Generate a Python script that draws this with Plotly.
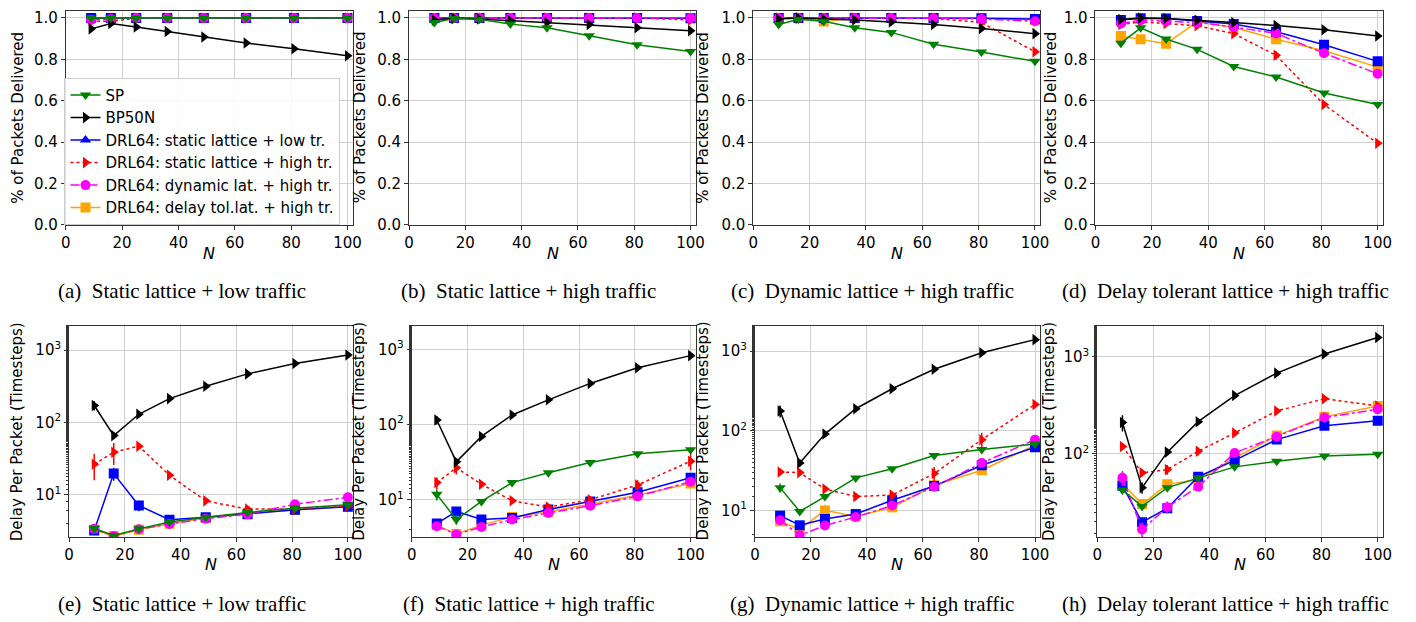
import plotly.graph_objects as go

# ---------------- data ----------------
N = [9, 16, 25, 36, 49, 64, 81, 100]
X_TICKS = [0, 20, 40, 60, 80, 100]
PDR_TICKS = [0.0, 0.2, 0.4, 0.6, 0.8, 1.0]
PDR_TICK_TEXT = ["0.0", "0.2", "0.4", "0.6", "0.8", "1.0"]
LOG_TICKS = [10, 100, 1000]
LOG_TICK_TEXT = ["10<sup>1</sup>", "10<sup>2</sup>", "10<sup>3</sup>"]

SERIES_NAMES = ["SP", "BP50N", "DRL64: static lattice + low tr.",
                "DRL64: static lattice + high tr.", "DRL64: dynamic lat. + high tr.",
                "DRL64: delay tol.lat. + high tr."]

CAPTIONS = ["(a)  Static lattice + low traffic", "(b)  Static lattice + high traffic",
            "(c)  Dynamic lattice + high traffic", "(d)  Delay tolerant lattice + high traffic",
            "(e)  Static lattice + low traffic", "(f)  Static lattice + high traffic",
            "(g)  Dynamic lattice + high traffic", "(h)  Delay tolerant lattice + high traffic"]

# (a) packets delivered, static lattice + low traffic
A_SP = [1.0, 1.0, 1.0, 1.0, 1.0, 1.0, 1.0, 1.0]
A_BP = [0.947, 0.973, 0.956, 0.934, 0.908, 0.879, 0.851, 0.817]
A_LOW = [1.0, 1.0, 1.0, 1.0, 1.0, 1.0, 1.0, 1.0]
A_HIGH = [0.985, 0.983, 0.999, 1.0, 1.0, 1.0, 1.0, 1.0]
A_DYN = [0.99, 0.995, 1.0, 1.0, 1.0, 1.0, 1.0, 1.0]
A_DT = [1.0, 1.0, 1.0, 1.0, 1.0, 1.0, 1.0, 1.0]
# (b)
B_SP = [0.978, 0.997, 0.994, 0.970, 0.952, 0.914, 0.870, 0.838]
B_BP = [0.990, 0.998, 0.995, 0.987, 0.978, 0.968, 0.953, 0.938]
B_LOW = [1.0, 1.0, 1.0, 1.0, 1.0, 1.0, 1.0, 0.998]
B_HIGH = [0.990, 0.996, 1.0, 1.0, 1.0, 1.0, 1.0, 0.990]
B_DYN = [1.0, 1.0, 1.0, 1.0, 1.0, 1.0, 1.0, 1.0]
B_DT = [1.0, 1.0, 1.0, 1.0, 1.0, 1.0, 1.0, 1.0]
# (c)
C_SP = [0.968, 0.994, 0.984, 0.952, 0.930, 0.873, 0.835, 0.790]
C_BP = [0.995, 1.0, 0.995, 0.990, 0.980, 0.968, 0.949, 0.924]
C_LOW = [1.0, 1.0, 1.0, 1.0, 1.0, 1.0, 0.998, 0.995]
C_HIGH = [1.0, 1.0, 1.0, 1.0, 1.0, 0.998, 0.978, 0.836]
C_DYN = [1.0, 1.0, 1.0, 1.0, 1.0, 0.998, 0.995, 0.984]
C_DT = [1.0, 1.0, 0.983, 1.0, 1.0, 1.0, 0.998, 0.990]
# (d)
D_SP = [0.878, 0.952, 0.898, 0.848, 0.765, 0.714, 0.637, 0.581]
D_BP = [0.992, 1.0, 0.997, 0.989, 0.978, 0.963, 0.943, 0.913]
D_LOW = [0.990, 0.998, 0.997, 0.985, 0.971, 0.933, 0.870, 0.790]
D_HIGH = [0.968, 0.981, 0.973, 0.962, 0.924, 0.819, 0.581, 0.394]
D_DYN = [0.973, 0.990, 0.984, 0.978, 0.956, 0.925, 0.829, 0.730]
D_DT = [0.913, 0.897, 0.875, 0.981, 0.954, 0.897, 0.841, 0.762]
# (e) delay per packet
E_SP = [3.44, 2.75, 3.4, 4.23, 4.9, 5.74, 6.56, 7.31]
E_BP = [172, 66, 130, 214, 317, 470, 655, 857]
E_LOW = [3.23, 19.7, 7.14, 4.56, 4.9, 5.43, 6.24, 6.85]
E_HIGH = [26.5, 39, 47.1, 18.7, 8.28, 6.37, 6.4, 7.0]
E_DYN = [3.4, 2.7, 3.35, 3.97, 4.7, 5.43, 7.45, 9.27]
E_DT = [3.3, 2.7, 3.3, 4.0, 4.8, 5.5, 6.2, 6.9]
# (f)
F_SP = [11.8, 5.45, 9.5, 16.9, 22.9, 31.2, 41, 46.3]
F_BP = [115, 31.9, 69.5, 134, 213, 352, 567, 824]
F_LOW = [4.83, 7.0, 5.45, 5.73, 7.4, 9.5, 12.6, 19.6]
F_HIGH = [16.9, 26.6, 16.1, 9.7, 8.0, 10.0, 15.7, 32.6]
F_DYN = [4.46, 3.46, 4.36, 5.45, 6.67, 8.34, 11.1, 17.4]
F_DT = [4.6, 3.5, 4.6, 5.9, 6.9, 8.8, 11.5, 16.5]
# (g)
G_SP = [19.3, 9.7, 14.9, 25.6, 33.4, 49, 58.2, 68.3]
G_BP = [177, 39.4, 90.8, 189, 337, 592, 953, 1393]
G_LOW = [8.6, 6.5, 7.8, 9.0, 13.4, 20.2, 36.8, 62]
G_HIGH = [30.4, 29.8, 18.6, 14.9, 15.6, 29, 77.3, 214]
G_DYN = [7.5, 4.86, 6.46, 8.26, 11.5, 19.8, 39.4, 77.3]
G_DT = [7.3, 5.77, 10.0, 8.4, 10.9, 20.7, 31.9, 66]
# (h)
H_SP = [42.4, 28.7, 44.8, 56.6, 73.3, 83.6, 94.8, 98.6]
H_BP = [210, 44.8, 104, 214, 398, 677, 1065, 1574]
H_LOW = [46.9, 19.7, 27.5, 58, 85.5, 140, 194, 219]
H_HIGH = [119, 63.7, 68.7, 106, 164, 276, 369, 311]
H_DYN = [56.6, 16.6, 28.2, 45.8, 102, 150, 236, 287]
H_DT = [49.5, 30.3, 48.4, 54.5, 90.4, 154, 240, 311]

# error bars (half-widths)
E_BP_ERR = [25, 6, 8, 0, 0, 0, 0, 0]
E_HIGH_ERR = [10.5, 13, 4, 1, 0.5, 0.3, 0, 0]
E_LOW_ERR = [0.3, 4, 1.2, 0.2, 0, 0, 0, 0]
F_BP_ERR = [15, 3, 5, 0, 0, 0, 0, 0]
F_HIGH_ERR = [3, 5, 1, 0.5, 0.5, 0.8, 2.5, 8]
F_SP_ERR = [2, 0.8, 0, 0, 0, 0, 0, 0]
F_LOW_ERR = [0.3, 1, 0.3, 0, 0, 0, 0, 0]
G_BP_ERR = [30, 4, 6, 0, 0, 0, 0, 0]
G_HIGH_ERR = [2, 2, 1, 1.5, 1.5, 6, 17, 10]
G_DT_ERR = [0, 0.5, 1.8, 0, 0, 0, 0, 0]
G_SP_ERR = [2.5, 0.5, 0, 0, 0, 0, 0, 0]
H_BP_ERR = [40, 6, 5, 0, 0, 0, 0, 0]
H_HIGH_ERR = [8, 5, 8, 10, 8, 10, 10, 10]
H_DYN_ERR = [10, 3, 4, 4, 6, 0, 0, 0]
H_LOW_ERR = [5, 2, 3, 6, 0, 0, 0, 0]
D_HIGH_ERR = [0, 0, 0, 0, 0.01, 0.02, 0.01, 0]

# ---------------- styles ----------------
W, H = 1416, 622
FONT = "DejaVu Sans"
SERIF = "Liberation Serif"
TICK_SIZE = 15
TITLE_SIZE = 15
COLORS = ["#008000", "#000000", "#0000ff", "#ff0000", "#ff00ff", "#ffa500"]
DASHES = ["solid", "solid", "solid", "dot", "dashdot", "solid"]
SYMBOLS = ["triangle-down", "triangle-right", "square", "triangle-right", "circle", "square"]
LEGEND_SYMBOLS = ["triangle-down", "triangle-right", "triangle-up", "triangle-right", "circle", "square"]
DRAW_ORDER = [5, 2, 3, 4, 1, 0]

panels = [
    dict(vals=[A_SP, A_BP, A_LOW, A_HIGH, A_DYN, A_DT], errs={}),
    dict(vals=[B_SP, B_BP, B_LOW, B_HIGH, B_DYN, B_DT], errs={}),
    dict(vals=[C_SP, C_BP, C_LOW, C_HIGH, C_DYN, C_DT], errs={}),
    dict(vals=[D_SP, D_BP, D_LOW, D_HIGH, D_DYN, D_DT], errs={3: D_HIGH_ERR}),
    dict(vals=[E_SP, E_BP, E_LOW, E_HIGH, E_DYN, E_DT], errs={1: E_BP_ERR, 3: E_HIGH_ERR, 2: E_LOW_ERR}),
    dict(vals=[F_SP, F_BP, F_LOW, F_HIGH, F_DYN, F_DT], errs={1: F_BP_ERR, 3: F_HIGH_ERR, 0: F_SP_ERR, 2: F_LOW_ERR}),
    dict(vals=[G_SP, G_BP, G_LOW, G_HIGH, G_DYN, G_DT], errs={1: G_BP_ERR, 3: G_HIGH_ERR, 5: G_DT_ERR, 0: G_SP_ERR}),
    dict(vals=[H_SP, H_BP, H_LOW, H_HIGH, H_DYN, H_DT], errs={1: H_BP_ERR, 3: H_HIGH_ERR, 4: H_DYN_ERR, 2: H_LOW_ERR}),
]

# pixel geometry: (left, right) for x, (top, bottom) for y
X_PX = [(53.3, 343.0), (400.0, 690.0), (747.7, 1037.3), (1093.3, 1384.0),
        (56.7, 343.3), (402.7, 690.0), (749.3, 1037.3), (1095.0, 1384.0)]
Y_PX_TOP = (1.7, 219.3)
Y_PX_BOT = (321.7, 536.7)
X_RANGES = [101.8, 102.0, 101.8, 102.0, 101.8, 102.0, 101.8, 102.0]
LOG_RANGES = [(0.418, 3.340), (0.504, 3.316), (0.665, 3.321), (1.142, 3.321)]
YTITLE_X = [5.0, 350.0, 697.0, 1048.0, 4.0, 350.0, 697.0, 1047.0]
XTITLE_Y = [249, 249, 249, 249, 565, 565, 565, 565]
CAPTION_X = [171, 521, 868, 1225, 171, 521, 868, 1225]
CAPTION_Y = [287, 287, 287, 287, 605, 605, 605, 605]

fig = go.Figure()
layout = dict(width=W, height=H, margin=dict(l=0, r=0, t=0, b=0),
              plot_bgcolor="white", paper_bgcolor="white",
              font=dict(family=FONT, size=TICK_SIZE, color="black"))
annotations = []

for i, p in enumerate(panels):
    k = "" if i == 0 else str(i + 1)
    xa, ya = "x" + k, "y" + k
    top = i < 4
    ypx = Y_PX_TOP if top else Y_PX_BOT
    xd = [X_PX[i][0] / W, X_PX[i][1] / W]
    yd = [1 - ypx[1] / H, 1 - ypx[0] / H]
    layout["xaxis" + k] = dict(
        domain=xd, anchor=ya, range=[0, X_RANGES[i]], tickvals=X_TICKS,
        ticks="outside", ticklen=4, tickcolor="#333", showline=True, linecolor="#333",
        linewidth=1, mirror=True, showgrid=True, gridcolor="#d0d0d0", gridwidth=1,
        zeroline=False, tickfont=dict(family=FONT, size=TICK_SIZE))
    if top:
        layout["yaxis" + k] = dict(
            domain=yd, anchor=xa, range=[0, 1.035], tickvals=PDR_TICKS, ticktext=PDR_TICK_TEXT,
            ticks="outside", ticklen=4, tickcolor="#333", showline=True, linecolor="#333",
            linewidth=1, mirror=True, showgrid=True, gridcolor="#d0d0d0", zeroline=False,
            tickfont=dict(family=FONT, size=TICK_SIZE))
        ytitle = "% of Packets Delivered"
    else:
        lr = LOG_RANGES[i - 4]
        layout["yaxis" + k] = dict(
            domain=yd, anchor=xa, type="log", range=list(lr), tickvals=LOG_TICKS,
            ticktext=LOG_TICK_TEXT, ticks="outside", ticklen=4, tickcolor="#333",
            showline=True, linecolor="#333", linewidth=1, mirror=True, showgrid=True,
            gridcolor="#d0d0d0", zeroline=False, tickfont=dict(family=FONT, size=TICK_SIZE),
            minor=dict(ticks="outside", ticklen=2, tickcolor="#333", showgrid=False))
        ytitle = "Delay Per Packet (Timesteps)"
    annotations.append(dict(text=ytitle, xref="paper", yref="paper",
                            x=YTITLE_X[i] / W, y=(yd[0] + yd[1]) / 2, textangle=-90,
                            showarrow=False, xanchor="center", yanchor="middle",
                            font=dict(family=FONT, size=TITLE_SIZE)))
    annotations.append(dict(text="<i>N</i>", xref="paper", yref="paper",
                            x=(xd[0] + xd[1]) / 2, y=1 - XTITLE_Y[i] / H, showarrow=False,
                            xanchor="center", yanchor="middle",
                            font=dict(family=FONT, size=TITLE_SIZE + 1)))
    annotations.append(dict(text=CAPTIONS[i], xref="paper", yref="paper",
                            x=CAPTION_X[i] / W, y=1 - CAPTION_Y[i] / H, showarrow=False,
                            xanchor="center", yanchor="middle",
                            font=dict(family=SERIF, size=21)))
    for s in DRAW_ORDER:
        err = p["errs"].get(s)
        fig.add_trace(go.Scatter(
            x=N, y=p["vals"][s], xaxis=xa, yaxis=ya, mode="lines+markers",
            line=dict(color=COLORS[s], width=1.5, dash=DASHES[s]),
            marker=dict(symbol=SYMBOLS[s], size=10, color=COLORS[s]),
            error_y=(dict(type="data", array=err, color=COLORS[s], thickness=1.5, width=0)
                     if err is not None else None),
            showlegend=False, name=SERIES_NAMES[s]))

# legend entries
for s in range(6):
    fig.add_trace(go.Scatter(
        x=[None], y=[None], xaxis="x", yaxis="y", mode="lines+markers",
        line=dict(color=COLORS[s], width=1.5, dash=DASHES[s]),
        marker=dict(symbol=LEGEND_SYMBOLS[s], size=10, color=COLORS[s]),
        name=SERIES_NAMES[s], showlegend=True))

layout["legend"] = dict(x=52 / W, y=1 - 70 / H, xanchor="left", yanchor="top",
                        bgcolor="rgba(255,255,255,0.85)", bordercolor="#cccccc", borderwidth=1,
                        font=dict(family=FONT, size=TICK_SIZE), traceorder="normal",
                        itemwidth=30)
layout["annotations"] = annotations
fig.update_layout(**layout)
fig.write_html("out.html")
